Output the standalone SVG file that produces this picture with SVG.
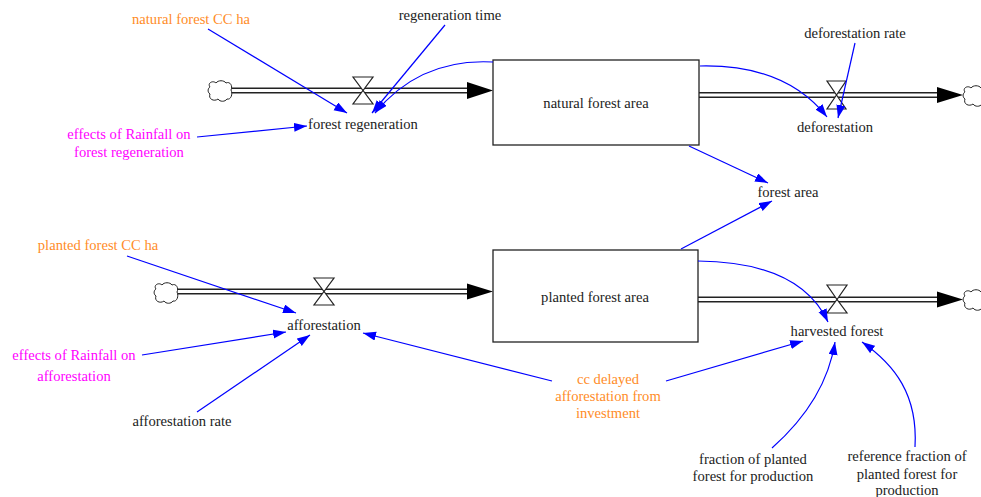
<svg xmlns="http://www.w3.org/2000/svg" width="981" height="497" viewBox="0 0 981 497">
<style>
text{font-family:"Liberation Serif","Times New Roman",serif;font-size:14.6px;fill:#222;text-anchor:middle}
.or{fill:#FF8C28}
.mg{fill:#FF00FF}
.stock{fill:#fff;stroke:#222;stroke-width:1.3}
.pipeo{fill:none;stroke:#222;stroke-width:6}
.pipei{fill:none;stroke:#fff;stroke-width:3}
.valve{fill:#fff;stroke:#222;stroke-width:1.2}
.cloud{fill:#fff;stroke:#222;stroke-width:1}
.link{fill:none;stroke:#0000FF;stroke-width:1.2;marker-end:url(#ah)}
.fa{fill:#000}
</style>
<defs>
<marker id="ah" markerUnits="userSpaceOnUse" markerWidth="14" markerHeight="10" refX="13" refY="4.5" orient="auto">
<path d="M0,0 L13,4.5 L0,9 z" fill="#0000FF"/>
</marker>
<path id="cl" d="M-10,-4 C-13,-8 -7,-11 -4,-8 C-2,-11 4,-11 6,-8 C10,-10 13,-5 11,-1 C13,3 11,9 7,8 C5,11 0,11 -2,8 C-6,11 -12,8 -10,3 C-13,1 -12,-3 -10,-4 Z"/>
</defs>
<rect width="981" height="497" fill="#fff"/>

<g id="flows">
<g id="flow-regeneration">
<path class="pipeo" d="M230,90.5 H470"/><path class="pipei" d="M230,90.5 H470"/>
<polygon class="fa" points="467,82 493,90.5 467,99"/>
<use href="#cl" class="cloud" x="220" y="91"/>
<polygon class="valve" points="353,77 373,77 363,90.5"/>
<polygon class="valve" points="353,104 373,104 363,90.5"/>
</g>
<g id="flow-deforestation">
<path class="pipeo" d="M699,95 H940"/><path class="pipei" d="M699,95 H940"/>
<polygon class="fa" points="937,87 963,95 937,103"/>
<use href="#cl" class="cloud" x="975" y="96"/>
<polygon class="valve" points="827,81 846,81 836.5,95"/>
<polygon class="valve" points="827,109 846,109 836.5,95"/>
</g>
<g id="flow-afforestation">
<path class="pipeo" d="M176,291.5 H470"/><path class="pipei" d="M176,291.5 H470"/>
<polygon class="fa" points="467,283.5 493,291.5 467,299.5"/>
<use href="#cl" class="cloud" x="166" y="293"/>
<polygon class="valve" points="314,278 334,278 324,291.5"/>
<polygon class="valve" points="314,305 334,305 324,291.5"/>
</g>
<g id="flow-harvest">
<path class="pipeo" d="M698,299.5 H940"/><path class="pipei" d="M698,299.5 H940"/>
<polygon class="fa" points="937,291.5 963,299.5 937,307.5"/>
<use href="#cl" class="cloud" x="975" y="300"/>
<polygon class="valve" points="827,285 847,285 837,299.5"/>
<polygon class="valve" points="827,313 847,313 837,299.5"/>
</g>
</g>

<g id="natural-forest-area"><rect class="stock" x="493" y="60" width="206" height="85"/><text x="596" y="108">natural forest area</text></g>
<g id="planted-forest-area"><rect class="stock" x="493" y="250" width="205" height="92"/><text x="595" y="302">planted forest area</text></g>

<g id="connectors">
<path class="link" d="M208,29 L347,113"/>
<path class="link" d="M445,25 L372,113"/>
<path class="link" d="M493,62 Q420,58 375,113"/>
<path class="link" d="M197,137 L307,126"/>
<path class="link" d="M700,66 Q785,64 827,117"/>
<path class="link" d="M855,43 L838,118"/>
<path class="link" d="M689,146 L768,183"/>
<path class="link" d="M681,249 L772,201"/>
<path class="link" d="M127,256 L296,313"/>
<path class="link" d="M142,355 L286,332"/>
<path class="link" d="M197,412 L310,335"/>
<path class="link" d="M552,381 L363,333"/>
<path class="link" d="M666,381 L803,341"/>
<path class="link" d="M698,261 Q800,262 828,322"/>
<path class="link" d="M772,448 Q826,400 835,342"/>
<path class="link" d="M915,447 C918,395 895,365 862,342"/>
</g>

<g id="natural-forest-CC-ha"><text class="or" x="191" y="24">natural forest CC ha</text></g>
<g id="regeneration-time"><text x="450" y="20">regeneration time</text></g>
<g id="forest-regeneration"><text x="363" y="129">forest regeneration</text></g>
<g id="effects-rainfall-regeneration"><text class="mg" x="129" y="139">effects of Rainfall on</text><text class="mg" x="129" y="157">forest regeneration</text></g>
<g id="deforestation-rate"><text x="855" y="38">deforestation rate</text></g>
<g id="deforestation"><text x="835" y="132">deforestation</text></g>
<g id="forest-area"><text x="788" y="197">forest area</text></g>
<g id="planted-forest-CC-ha"><text class="or" x="98" y="250">planted forest CC ha</text></g>
<g id="afforestation"><text x="324" y="330">afforestation</text></g>
<g id="effects-rainfall-afforestation"><text class="mg" x="74" y="360">effects of Rainfall on</text><text class="mg" x="74" y="381">afforestation</text></g>
<g id="afforestation-rate"><text x="182" y="426">afforestation rate</text></g>
<g id="harvested-forest"><text x="837" y="336">harvested forest</text></g>
<g id="cc-delayed"><text class="or" x="608" y="384">cc delayed</text><text class="or" x="608" y="401">afforestation from</text><text class="or" x="608" y="418">investment</text></g>
<g id="fraction-planted"><text x="753" y="464">fraction of planted</text><text x="753" y="481">forest for production</text></g>
<g id="reference-fraction"><text x="907" y="461">reference fraction of</text><text x="907" y="479">planted forest for</text><text x="907" y="495">production</text></g>
</svg>
